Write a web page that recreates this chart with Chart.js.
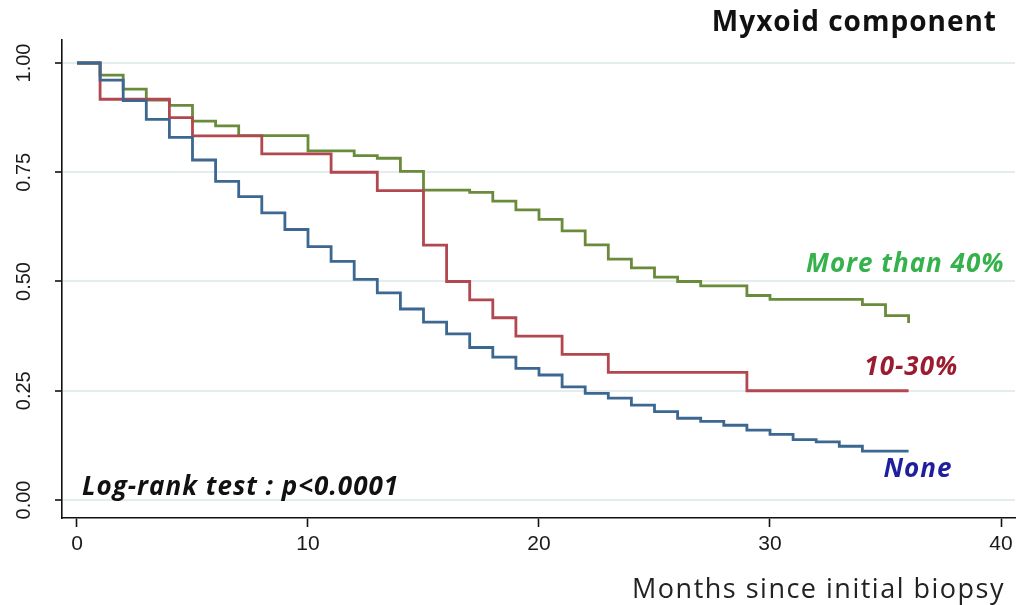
<!DOCTYPE html>
<html>
<head>
<meta charset="utf-8">
<title>Myxoid component</title>
<script src="https://cdn.jsdelivr.net/npm/chart.js@4.4.1/dist/chart.umd.min.js"></script>
<style>
  html, body { margin: 0; padding: 0; background: #fff; }
  #km { display: block; }
</style>
</head>
<body>
<canvas id="km" width="1020" height="605"></canvas>
<script>
// ---- data ----
const months = [0, 1, 2, 3, 4, 5, 6, 7, 8, 9, 10, 11, 12, 13, 14, 15, 16, 17, 18,
                19, 20, 21, 22, 23, 24, 25, 26, 27, 28, 29, 30, 31, 32, 33, 34, 35, 36];

// survival from that month on
const survNone = [1.000, 0.961, 0.914, 0.871, 0.830, 0.778, 0.729, 0.694, 0.657, 0.619,
                  0.580, 0.546, 0.505, 0.474, 0.437, 0.407, 0.380, 0.349, 0.327, 0.301,
                  0.286, 0.259, 0.244, 0.233, 0.217, 0.202, 0.187, 0.180, 0.171, 0.160,
                  0.150, 0.138, 0.133, 0.123, 0.112, 0.112, 0.112];
const surv10to30 = [1.000, 0.917, 0.917, 0.917, 0.875, 0.833, 0.833, 0.833, 0.792, 0.792,
                    0.792, 0.750, 0.750, 0.708, 0.708, 0.583, 0.500, 0.458, 0.417, 0.375,
                    0.375, 0.333, 0.333, 0.292, 0.292, 0.292, 0.292, 0.292, 0.292, 0.250,
                    0.250, 0.250, 0.250, 0.250, 0.250, 0.250, 0.250];
const survOver40 = [1.000, 0.972, 0.940, 0.915, 0.903, 0.867, 0.856, 0.834, 0.834, 0.834,
                    0.799, 0.799, 0.788, 0.782, 0.752, 0.709, 0.709, 0.704, 0.684, 0.664,
                    0.642, 0.616, 0.584, 0.551, 0.531, 0.510, 0.500, 0.490, 0.490, 0.468,
                    0.459, 0.459, 0.459, 0.459, 0.447, 0.422, 0.405];

const groupNames  = ['None', '10-30%', 'More than 40%'];
const xTicks      = [0, 10, 20, 30, 40];
const yTicks      = [0, 0.25, 0.5, 0.75, 1];
const yTickLabels = ['0.00', '0.25', '0.50', '0.75', '1.00'];
const chartTitle  = 'Myxoid component';
const xTitle      = 'Months since initial biopsy';
const testNote    = 'Log-rank test : p<0.0001';

const toPoints = surv => months.map((m, i) => ({ x: m, y: surv[i] }));

const LINE_BLUE  = '#3c6791';
const LINE_RED   = '#b3474f';
const LINE_GREEN = '#6a8b3b';
const NARROW = '"Liberation Sans Narrow", "Liberation Sans", Arial, sans-serif';
const LABEL  = '"Open Sans", "DejaVu Sans", sans-serif';

// texts that sit in the plot: y ticks (rotated), curve names, title, notes
const textPlugin = {
  id: 'kmText',
  afterDraw(chart) {
    const { ctx, scales: { x, y } } = chart;
    ctx.save();

    // vertical tick labels on the y axis
    ctx.font = '20px ' + NARROW;
    ctx.fillStyle = '#1a1a1a';
    ctx.textAlign = 'center';
    ctx.textBaseline = 'middle';
    yTicks.forEach((v, i) => {
      ctx.save();
      ctx.translate(24, y.getPixelForValue(v));
      ctx.rotate(-Math.PI / 2);
      ctx.fillText(yTickLabels[i], 0, 0);
      ctx.restore();
    });

    // curve names, right aligned
    ctx.font = 'italic bold 26px ' + LABEL;
    ctx.letterSpacing = '1px';
    ctx.textAlign = 'right';
    const spots = [
      { t: 37.9,  s: 0.069, c: '#1f1f9e' },
      { t: 38.15, s: 0.302, c: '#9a1c2e' },
      { t: 40.15, s: 0.538, c: '#35b24c' }
    ];
    groupNames.forEach((name, i) => {
      ctx.fillStyle = spots[i].c;
      ctx.fillText(name, x.getPixelForValue(spots[i].t), y.getPixelForValue(spots[i].s));
    });

    // log-rank note
    ctx.fillStyle = '#111';
    ctx.textAlign = 'left';
    ctx.fillText(testNote, 82, 488);

    // title
    ctx.font = 'bold 28px ' + LABEL;
    ctx.letterSpacing = '1px';
    ctx.textAlign = 'right';
    ctx.fillText(chartTitle, 997, 23);

    // x axis title
    ctx.font = '27px ' + LABEL;
    ctx.letterSpacing = '1.5px';
    ctx.fillStyle = '#222';
    ctx.fillText(xTitle, 1005, 590);

    ctx.restore();
  }
};

new Chart(document.getElementById('km'), {
  type: 'line',
  data: {
    datasets: [
      { label: groupNames[0], data: toPoints(survNone),   borderColor: LINE_BLUE },
      { label: groupNames[1], data: toPoints(surv10to30), borderColor: LINE_RED },
      { label: groupNames[2], data: toPoints(survOver40), borderColor: LINE_GREEN }
    ].map(d => Object.assign(d, {
      stepped: 'before',
      borderWidth: 2.8,
      pointRadius: 0,
      fill: false
    }))
  },
  options: {
    responsive: false,
    devicePixelRatio: 1,
    animation: false,
    layout: { padding: { top: 40, right: 5, left: 0, bottom: 0 } },
    plugins: {
      legend: { display: false },
      tooltip: { enabled: false }
    },
    scales: {
      x: {
        type: 'linear',
        min: -0.649,
        max: 40.606,
        afterBuildTicks: s => { s.ticks = xTicks.map(v => ({ value: v })); },
        afterFit: s => { s.height = 87; },
        border: { color: '#111', width: 1.6 },
        grid: {
          drawOnChartArea: false,
          tickLength: 9,
          tickColor: '#111',
          tickWidth: 1.6
        },
        ticks: {
          color: '#1a1a1a',
          font: { family: NARROW, size: 21 },
          padding: 5,
          maxRotation: 0
        }
      },
      y: {
        min: -0.0412,
        max: 1.0526,
        afterBuildTicks: s => { s.ticks = yTicks.map(v => ({ value: v })); },
        afterFit: s => { s.width = 62; },
        border: { color: '#111', width: 1.6 },
        grid: {
          color: '#e3eded',
          lineWidth: 2,
          tickLength: 7,
          tickColor: '#111',
          tickWidth: 1.6
        },
        ticks: { display: false }
      }
    }
  },
  plugins: [textPlugin]
});
</script>
</body>
</html>
